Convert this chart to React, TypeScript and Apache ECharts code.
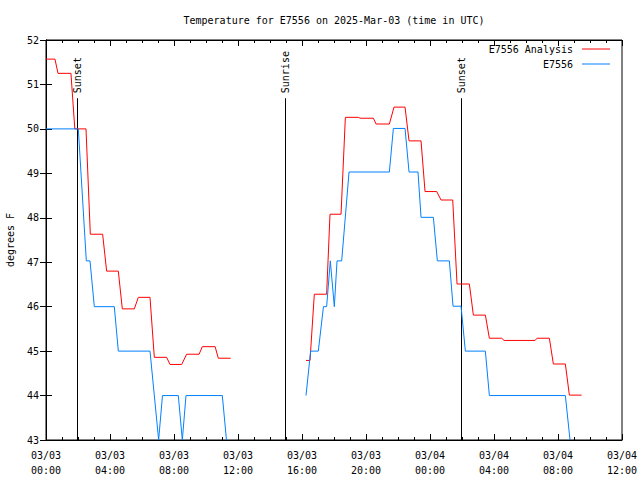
import React, { useEffect, useRef } from "react";
import * as echarts from "echarts";

const FONT = "DejaVu Sans Mono";

const tickLabels = [
  "03/03\n00:00", "03/03\n04:00", "03/03\n08:00", "03/03\n12:00", "03/03\n16:00",
  "03/03\n20:00", "03/04\n00:00", "03/04\n04:00", "03/04\n08:00", "03/04\n12:00",
];

// hours since 03/03 00:00 UTC
const analysisTimes = [
  0, 0.56, 0.75, 1.56, 1.8, 2.5, 2.77, 3.54, 3.79, 4.52, 4.77, 5.52, 5.77, 6.5, 6.77, 7.54, 7.75,
  8.48, 8.79, 9.57, 9.77, 10.57, 10.77, 11.54, 14,
  16.25, 16.5, 16.77, 17.54, 17.75, 18.44, 18.71, 19.52, 19.63, 20.46, 20.63, 21.46, 21.75, 22.44,
  22.69, 23.44, 23.69, 24.42, 24.69, 25.42, 25.69, 26.46, 26.71, 27.46, 27.71, 28.48, 28.63, 30.57,
  30.69, 31.46, 31.71, 32.46, 32.71, 33.48,
];
const analysisTemps = [
  51.57, 51.57, 51.25, 51.25, 50.0, 50.0, 47.63, 47.63, 46.8, 46.8, 45.95, 45.95, 46.21, 46.21, 44.86, 44.86, 44.7,
  44.7, 44.93, 44.93, 45.1, 45.1, 44.84, 44.84, null,
  44.79, 44.79, 46.28, 46.28, 48.08, 48.08, 50.26, 50.26, 50.24, 50.24, 50.11, 50.11, 50.49, 50.49,
  49.73, 49.73, 48.59, 48.59, 48.4, 48.4, 46.51, 46.51, 45.81, 45.81, 45.29, 45.29, 45.24, 45.24,
  45.29, 45.29, 44.71, 44.71, 44.01, 44.01,
];

const stationTimes = [
  0, 2.02, 2.52, 2.75, 3.02, 4.27, 4.52, 6.5, 7.04, 7.28, 8.27, 8.52, 8.75, 11.02, 11.28, 14,
  16.25, 16.54, 17.02, 17.34, 17.54, 17.77, 18.02, 18.19, 18.48, 18.94, 21.46, 21.71, 22.44, 22.69,
  23.25, 23.44, 24.21, 24.46, 25.21, 25.44, 25.94, 26.21, 27.46, 27.71, 32.46, 32.75,
];
const stationTemps = [
  50.0, 50.0, 47.03, 47.03, 46.0, 46.0, 45.0, 45.0, 43.0, 44.0, 44.0, 43.0, 44.0, 44.0, 43.0, null,
  44.0, 45.0, 45.0, 46.0, 46.0, 47.03, 46.0, 47.03, 47.03, 49.03, 49.03, 50.01, 50.01, 49.03,
  49.03, 48.01, 48.01, 47.03, 47.03, 46.01, 46.01, 45.0, 45.0, 44.0, 44.0, 43.0,
];

const eventTimes = [1.94, 14.94, 25.92];
const eventNames = ["Sunset", "Sunrise", "Sunset"];
const eventTop = 50.69;

export default function App() {
  const ref = useRef<HTMLDivElement>(null);
  useEffect(() => {
    if (!ref.current) return;
    const chart = echarts.init(ref.current, null, { renderer: "svg" });
    const textStyle = { fontFamily: FONT, fontSize: 10, color: "#000" };
    const xCommon = {
      type: "value" as const,
      min: 0,
      max: 36,
      interval: 4,
      axisLine: { show: true, lineStyle: { color: "#000", width: 1 } },
      axisTick: { show: true, inside: true, length: 6, lineStyle: { color: "#000" } },
      minorTick: { show: true, splitNumber: 4, length: 3, lineStyle: { color: "#000" } },
      splitLine: { show: false },
    };
    const yCommon = {
      type: "value" as const,
      min: 43,
      max: 52,
      interval: 1,
      axisLine: { show: true, lineStyle: { color: "#000", width: 1 } },
      axisTick: { show: true, inside: true, length: 6, lineStyle: { color: "#000" } },
      splitLine: { show: false },
    };
    chart.setOption({
      animation: false,
      backgroundColor: "#fff",
      title: {
        text: "Temperature for E7556 on 2025-Mar-03 (time in UTC)",
        left: 329,
        textAlign: "center",
        top: 10,
        textStyle: { ...textStyle, fontWeight: "normal" },
      },
      legend: {
        data: ["E7556 Analysis", "E7556"],
        orient: "vertical",
        right: 25,
        top: 37,
        align: "right",
        icon: "rect",
        itemWidth: 28,
        itemHeight: 1,
        itemGap: 1,
        textStyle: { ...textStyle, lineHeight: 14, padding: [0, 4, 0, 0] },
      },
      grid: {
        left: 46,
        right: 18,
        top: 40,
        bottom: 40,
        show: true,
        borderColor: "#000",
        borderWidth: 1,
        containLabel: false,
        outerBoundsMode: "none",
      },
      xAxis: [
        {
          ...xCommon,
          position: "bottom",
          axisLabel: {
            ...textStyle,
            margin: 8,
            lineHeight: 15,
            formatter: (v: number) => tickLabels[Math.round(v / 4)] ?? "",
          },
        },
        { ...xCommon, position: "top", axisLabel: { show: false } },
      ],
      yAxis: [
        {
          ...yCommon,
          position: "left",
          name: "degrees F",
          nameLocation: "middle",
          nameGap: 31,
          nameTextStyle: textStyle,
          axisLabel: { ...textStyle, margin: 7 },
        },
        { ...yCommon, position: "right", axisLabel: { show: false } },
      ],
      series: [
        {
          name: "E7556 Analysis",
          type: "line",
          data: analysisTimes.map((t, i) => [t, analysisTemps[i]]),
          showSymbol: false,
          symbol: "none",
          connectNulls: false,
          color: "#ff0000",
          lineStyle: { width: 1, color: "#ff0000" },
        },
        {
          name: "E7556",
          type: "line",
          data: stationTimes.map((t, i) => [t, stationTemps[i]]),
          showSymbol: false,
          symbol: "none",
          connectNulls: false,
          color: "#0080ff",
          lineStyle: { width: 1, color: "#0080ff" },
        },
        {
          name: "events",
          type: "custom",
          silent: true,
          clip: false,
          data: eventTimes.map((t) => [t, eventTop]),
          renderItem: (params: any, api: any) => {
            const x = api.value(0);
            const top = api.coord([x, eventTop]);
            const bot = api.coord([x, 43]);
            const px = Math.round(top[0]) + 0.5;
            return {
              type: "group",
              children: [
                {
                  type: "line",
                  shape: { x1: px, y1: top[1], x2: px, y2: bot[1] },
                  style: { stroke: "#000", lineWidth: 1 },
                },
                {
                  type: "text",
                  x: px,
                  y: top[1] - 5,
                  rotation: Math.PI / 2,
                  style: {
                    text: eventNames[params.dataIndex],
                    fill: "#000",
                    font: `10px ${FONT}`,
                    align: "left",
                    verticalAlign: "middle",
                  },
                },
              ],
            };
          },
        },
      ],
    });
    return () => chart.dispose();
  }, []);
  return (
    <div
      ref={ref}
      style={{ position: "fixed", left: 0, top: 0, width: 640, height: 480, background: "#fff" }}
    />
  );
}
